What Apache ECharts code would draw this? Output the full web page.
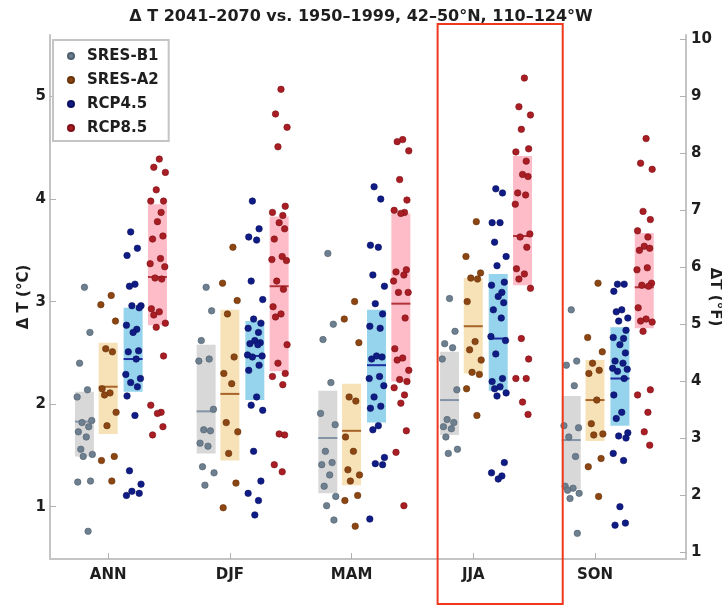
<!DOCTYPE html>
<html>
<head>
<meta charset="utf-8">
<script src="https://cdn.jsdelivr.net/npm/echarts@6/dist/echarts.min.js"></script>
<style>
html,body{margin:0;padding:0;background:#fff;}
#chart{width:722px;height:606px;}
</style>
</head>
<body>
<div id="chart"></div>
<script>
// ---------------- DATA ----------------
const seasons = ['ANN', 'DJF', 'MAM', 'JJA', 'SON'];
const scenarios = ['SRES-B1', 'SRES-A2', 'RCP4.5', 'RCP8.5'];
const leftTicks = [1, 2, 3, 4, 5];
const rightTicks = [1, 2, 3, 4, 5, 6, 7, 8, 9, 10];
const highlightSeason = 'JJA';

// model values (°C)
const b1_ANN = [3.14, 2.70, 2.40, 2.14, 2.07, 1.84, 1.82, 1.78, 1.73, 1.68, 1.56, 1.51, 1.49, 1.25, 1.24, 0.76];
const a2_ANN = [3.06, 2.97, 2.81, 2.54, 2.51, 2.15, 2.11, 2.09, 1.92, 1.79, 1.49, 1.45, 1.25];
const r45_ANN = [3.68, 3.52, 3.45, 3.17, 3.15, 2.96, 2.96, 2.94, 2.77, 2.73, 2.70, 2.52, 2.51, 2.44, 2.29, 2.25, 2.21, 2.17, 2.08, 1.89, 1.35, 1.22, 1.15, 1.13, 1.11];
const r85_ANN = [4.39, 4.31, 4.26, 4.09, 3.98, 3.98, 3.87, 3.78, 3.64, 3.61, 3.42, 3.37, 3.34, 3.23, 3.22, 2.93, 2.90, 2.87, 2.79, 2.75, 2.47, 1.99, 1.92, 1.91, 1.78, 1.70];

const b1_DJF = [3.14, 2.91, 2.62, 2.44, 2.42, 1.95, 1.75, 1.74, 1.62, 1.59, 1.39, 1.33, 1.21];
const a2_DJF = [3.53, 3.18, 3.01, 2.88, 2.46, 2.30, 2.20, 1.82, 1.73, 1.52, 1.23, 0.99];
const r45_DJF = [3.98, 3.71, 3.63, 3.60, 3.20, 3.02, 2.83, 2.79, 2.74, 2.70, 2.62, 2.60, 2.59, 2.58, 2.48, 2.47, 2.46, 2.38, 2.33, 2.07, 1.99, 1.94, 1.54, 1.25, 1.13, 1.06, 0.92];
const r85_DJF = [5.07, 4.83, 4.70, 4.51, 3.93, 3.87, 3.84, 3.77, 3.71, 3.61, 3.44, 3.41, 3.40, 3.20, 3.12, 2.95, 2.88, 2.85, 2.58, 2.40, 2.30, 2.27, 2.19, 1.71, 1.70, 1.41, 1.34];

const b1_MAM = [3.47, 2.78, 2.63, 2.21, 1.91, 1.80, 1.54, 1.43, 1.41, 1.31, 1.20, 1.10, 1.01, 0.87];
const a2_MAM = [3.00, 2.83, 2.60, 2.07, 2.03, 1.68, 1.54, 1.36, 1.31, 1.25, 1.11, 1.06, 0.81];
const r45_MAM = [4.12, 4.00, 3.55, 3.53, 3.26, 3.15, 2.98, 2.88, 2.76, 2.74, 2.47, 2.46, 2.44, 2.27, 2.25, 2.18, 2.07, 1.98, 1.96, 1.79, 1.75, 1.48, 1.42, 1.41, 0.88];
const r85_MAM = [4.58, 4.56, 4.47, 4.19, 3.99, 3.89, 3.87, 3.86, 3.31, 3.29, 3.26, 3.20, 3.09, 3.09, 2.84, 2.54, 2.45, 2.43, 2.33, 2.24, 2.22, 2.16, 2.09, 2.01, 1.74, 1.53, 1.01];

const b1_JJA = [3.03, 2.71, 2.59, 2.55, 2.44, 2.14, 1.85, 1.82, 1.78, 1.76, 1.68, 1.56, 1.52];
const a2_JJA = [3.78, 3.44, 3.28, 3.23, 3.22, 3.00, 2.61, 2.53, 2.43, 2.31, 2.29, 2.15, 1.89];
const r45_JJA = [4.10, 4.06, 3.77, 3.77, 3.58, 3.44, 3.35, 3.19, 3.16, 3.09, 3.05, 2.99, 2.92, 2.84, 2.66, 2.62, 2.49, 2.25, 2.22, 2.17, 2.15, 2.11, 2.08, 1.43, 1.33, 1.30, 1.27];
const r85_JJA = [5.18, 4.90, 4.82, 4.68, 4.49, 4.46, 4.37, 4.24, 4.22, 4.06, 4.04, 3.95, 3.66, 3.63, 3.53, 3.32, 3.27, 3.22, 3.13, 2.64, 2.44, 2.25, 2.25, 2.02, 1.90];

const b1_SON = [2.92, 2.42, 2.38, 2.18, 1.79, 1.77, 1.68, 1.49, 1.20, 1.18, 1.16, 1.13, 1.08, 0.74];
const a2_SON = [3.18, 2.65, 2.51, 2.40, 2.33, 2.30, 2.04, 1.81, 1.71, 1.70, 1.47, 1.39, 1.10];
const r45_SON = [3.17, 3.17, 3.10, 2.92, 2.90, 2.84, 2.81, 2.72, 2.65, 2.64, 2.58, 2.50, 2.42, 2.40, 2.35, 2.34, 2.32, 2.25, 2.09, 1.92, 1.86, 1.72, 1.69, 1.67, 1.52, 1.45, 1.00, 0.84, 0.82];
const r85_SON = [4.59, 4.35, 4.29, 3.88, 3.80, 3.69, 3.63, 3.54, 3.52, 3.50, 3.33, 3.31, 3.18, 3.16, 3.15, 2.94, 2.83, 2.81, 2.80, 2.71, 2.14, 2.09, 1.92, 1.73, 1.60];

// box ranges per season: [low, median, high]
const b1_box = [[1.49, 1.83, 2.12], [1.52, 1.93, 2.58], [1.13, 1.67, 2.13], [1.70, 2.04, 2.51], [1.17, 1.65, 2.08]];
const a2_box = [[1.71, 2.17, 2.60], [1.45, 2.10, 2.92], [1.21, 1.74, 2.20], [2.30, 2.76, 3.23], [1.64, 2.04, 2.43]];
const r45_box = [[2.12, 2.44, 2.94], [2.04, 2.47, 2.81], [1.82, 2.38, 2.92], [2.13, 2.64, 3.27], [1.79, 2.25, 2.75]];
const r85_box = [[2.77, 3.24, 3.95], [2.32, 3.15, 3.83], [2.22, 2.98, 3.86], [3.16, 3.64, 4.42], [2.74, 3.14, 3.67]];

// ---------------- LAYOUT / STYLE ----------------
const groupOffset = [-0.195, 0.0, 0.205, 0.405];
const boxHalf = 0.078;
const jitter = [0.0, 0.045, -0.04, 0.025, -0.06, 0.06, -0.02, 0.035, -0.05, 0.015, -0.03, 0.065, -0.01, 0.05, -0.055, 0.03];
const dotColor = ['#6e7f8f', '#8b4613', '#101c86', '#a81e24'];
const dotBorder = ['#4e5e6d', '#6a3208', '#0a1060', '#7e1016'];
const boxColor = ['#d5d5d5', '#f6deb1', '#8dcfea', '#fdb6c2'];
const medColor = ['#8494a6', '#a8652a', '#1e2ca0', '#b2343a'];
const yMinC = 0.49, yMaxC = 5.60, cToF = 1.8;
const FONT = 'DejaVu Sans';

const valueSets = [
  [b1_ANN, b1_DJF, b1_MAM, b1_JJA, b1_SON],
  [a2_ANN, a2_DJF, a2_MAM, a2_JJA, a2_SON],
  [r45_ANN, r45_DJF, r45_MAM, r45_JJA, r45_SON],
  [r85_ANN, r85_DJF, r85_MAM, r85_JJA, r85_SON]
];
const boxSets = [b1_box, a2_box, r45_box, r85_box];

const series = [];
// boxes
boxSets.forEach((bs, k) => {
  series.push({
    type: 'custom',
    name: 'box-' + scenarios[k],
    z: 1,
    silent: true,
    data: bs.map((b, s) => [s + 1 + groupOffset[k], b[0], b[2], b[1]]),
    encode: { x: 0, y: [1, 2, 3] },
    renderItem: function (params, api) {
      const x = api.value(0);
      const p1 = api.coord([x - boxHalf, api.value(2)]);
      const p2 = api.coord([x + boxHalf, api.value(1)]);
      const m1 = api.coord([x - boxHalf, api.value(3)]);
      const m2 = api.coord([x + boxHalf, api.value(3)]);
      return {
        type: 'group',
        children: [
          { type: 'rect', shape: { x: p1[0], y: p1[1], width: p2[0] - p1[0], height: p2[1] - p1[1] },
            style: { fill: boxColor[k], opacity: 0.92 } },
          { type: 'line', shape: { x1: m1[0], y1: m1[1], x2: m2[0], y2: m2[1] },
            style: { stroke: medColor[k], lineWidth: 2 } }
        ]
      };
    }
  });
});
// dots
valueSets.forEach((sets, k) => {
  const data = [];
  sets.forEach((vals, s) => {
    vals.forEach((v, i) => {
      data.push([s + 1 + groupOffset[k] + jitter[(i + k * 3) % jitter.length], v]);
    });
  });
  series.push({
    type: 'scatter',
    name: scenarios[k],
    z: 3,
    symbol: 'circle',
    symbolSize: 6.5,
    itemStyle: { color: dotColor[k], borderColor: dotBorder[k], borderWidth: 0.6, opacity: 1 },
    data: data
  });
});
// highlight frame around one season
const hi = seasons.indexOf(highlightSeason) + 1;
series.push({
  type: 'custom',
  name: 'highlight',
  z: 5,
  silent: true,
  clip: false,
  data: [[hi - 0.293, hi + 0.735]],
  encode: { x: [0, 1] },
  renderItem: function (params, api) {
    const cs = params.coordSys;
    const a = api.coord([api.value(0), yMinC]);
    const b = api.coord([api.value(1), yMinC]);
    return {
      type: 'rect',
      shape: { x: a[0], y: cs.y - 11, width: b[0] - a[0], height: cs.height + 56 },
      style: { fill: 'none', stroke: '#f0391c', lineWidth: 2 }
    };
  }
});

const axisLineStyle = { color: '#c4c4c4', width: 2 };
const labelStyle = { color: '#1e1e1e', fontFamily: FONT, fontWeight: 'bold', fontSize: 15 };

const option = {
  backgroundColor: '#ffffff',
  animation: false,
  title: {
    text: 'Δ T 2041–2070 vs. 1950–1999, 42–50°N, 110–124°W',
    left: 'center',
    top: 4,
    textStyle: { fontFamily: FONT, fontWeight: 'bold', fontSize: 16, color: '#1e1e1e' }
  },
  legend: {
    data: scenarios,
    orient: 'vertical',
    left: 53,
    top: 40,
    padding: [8, 10, 5, 14],
    itemGap: 8,
    itemWidth: 6,
    itemHeight: 6,
    icon: 'circle',
    backgroundColor: '#ffffff',
    borderColor: '#c4c4c4',
    borderWidth: 2,
    borderRadius: 0,
    textStyle: { color: '#1e1e1e', fontFamily: FONT, fontWeight: 'bold', fontSize: 15, lineHeight: 16, padding: [0, 0, 0, 8] }
  },
  grid: { left: 50, right: 36, top: 35, bottom: 47, containLabel: false, outerBoundsMode: 'none' },
  xAxis: {
    type: 'value',
    min: 0.522,
    max: 5.748,
    splitLine: { show: false },
    axisLine: { onZero: false, lineStyle: axisLineStyle },
    axisTick: { inside: true, length: 6, customValues: [1, 2, 3, 4, 5], lineStyle: { color: '#b0b0b0', width: 1 } },
    axisLabel: Object.assign({ customValues: [1, 2, 3, 4, 5], margin: 9,
      formatter: v => seasons[Math.round(v) - 1] || '' }, labelStyle)
  },
  yAxis: [
    {
      type: 'value',
      position: 'left',
      min: yMinC,
      max: yMaxC,
      name: 'Δ T (°C)',
      nameLocation: 'middle',
      nameGap: 18,
      nameRotate: 90,
      nameMoveOverlap: false,
      nameTextStyle: { color: '#1e1e1e', fontFamily: FONT, fontWeight: 'bold', fontSize: 15 },
      splitLine: { show: false },
      axisLine: { show: true, onZero: false, lineStyle: axisLineStyle },
      axisTick: { show: true, inside: true, length: 6, customValues: leftTicks, lineStyle: { color: '#b0b0b0', width: 1 } },
      axisLabel: Object.assign({ customValues: leftTicks, margin: 4 }, labelStyle)
    },
    {
      type: 'value',
      position: 'right',
      min: yMinC * cToF,
      max: yMaxC * cToF,
      name: 'ΔT (°F)',
      nameLocation: 'middle',
      nameGap: 21,
      nameRotate: -90,
      nameMoveOverlap: false,
      nameTextStyle: { color: '#1e1e1e', fontFamily: FONT, fontWeight: 'bold', fontSize: 15 },
      splitLine: { show: false },
      axisLine: { show: true, onZero: false, lineStyle: axisLineStyle },
      axisTick: { show: true, inside: true, length: 6, customValues: rightTicks, lineStyle: { color: '#b0b0b0', width: 1 } },
      axisLabel: Object.assign({ customValues: rightTicks, margin: 5 }, labelStyle)
    }
  ],
  series: series
};

const chart = echarts.init(document.getElementById('chart'), null, { renderer: 'canvas' });
chart.setOption(option);
</script>
</body>
</html>
